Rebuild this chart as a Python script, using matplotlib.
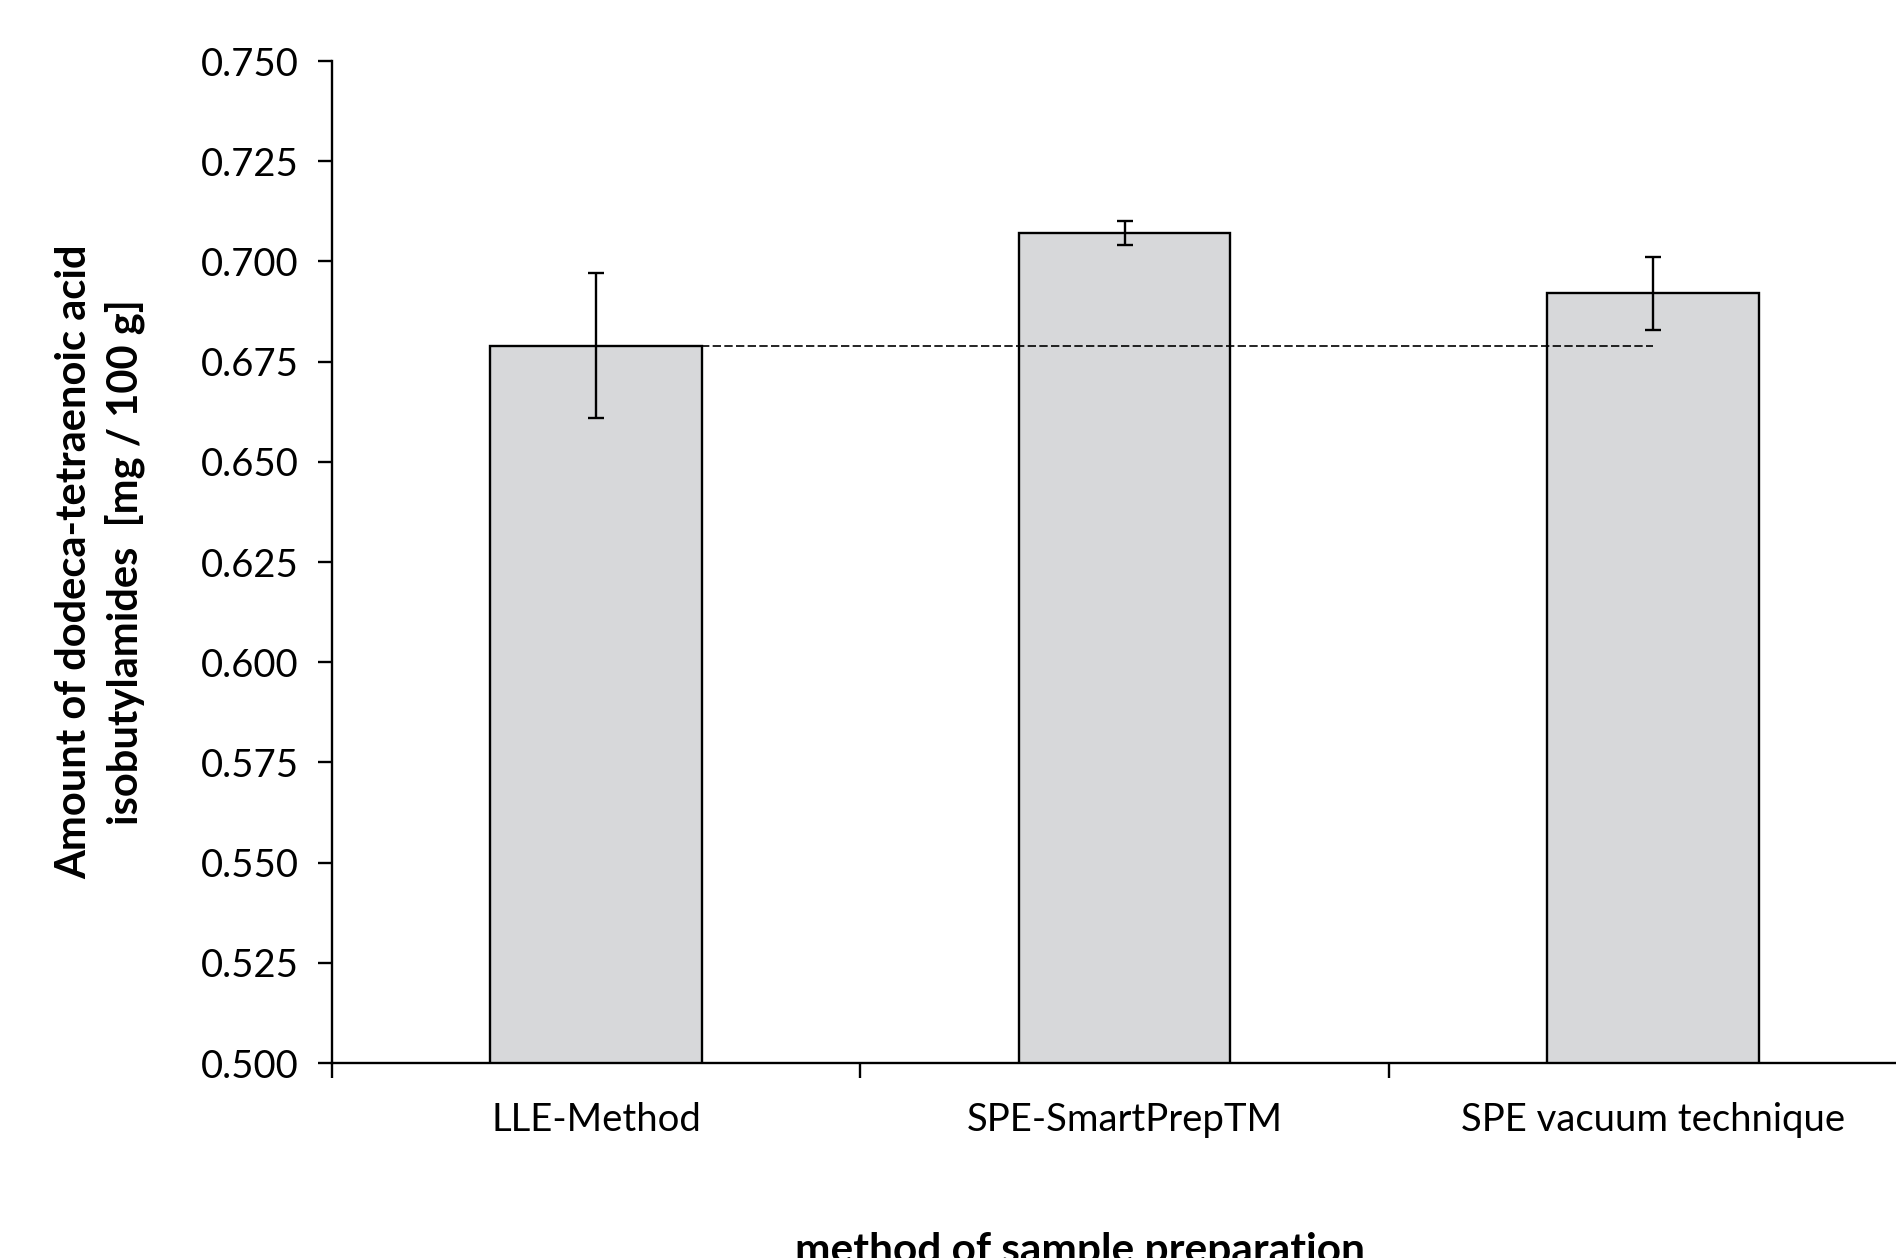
import numpy as np
import matplotlib
matplotlib.use("Agg")
import matplotlib.pyplot as plt

plt.rcParams["font.family"] = ["Lato", "DejaVu Sans"]

# measured amounts per preparation method (mean ± error)
methods = ["LLE-Method", "SPE-SmartPrepTM", "SPE vacuum technique"]
amounts = [0.679, 0.707, 0.692]
errors = [0.018, 0.003, 0.009]
y_ticks = [0.500, 0.525, 0.550, 0.575, 0.600, 0.625, 0.650, 0.675, 0.700, 0.725, 0.750]

fig = plt.figure(figsize=(18.96, 12.58), dpi=100)
ax = fig.add_axes([0.1751, 0.155, 0.836, 0.7965])

x = np.arange(len(methods))
ax.bar(x, amounts, width=0.4, color="#d7d8da", edgecolor="black", linewidth=1.7, zorder=2)
ax.errorbar(x, amounts, yerr=errors, fmt="none", ecolor="black", elinewidth=1.7,
            capsize=6, capthick=1.7, zorder=3)

# reference level of the LLE method across to the last method
ax.hlines(amounts[0], x[0], x[-1], colors="black", linestyles=(0, (5, 2)), linewidth=1.2, zorder=4)

ax.set_xlim(-0.5, len(methods) - 0.5)
ax.set_ylim(0.5, 0.75)
ax.set_yticks(y_ticks)
ax.set_yticklabels([f"{v:.3f}" for v in y_ticks])

# boundary ticks between categories, labels centred on the bars
ax.set_xticks(np.arange(len(methods) + 1) - 0.5)
ax.set_xticklabels([])
ax.set_xticks(x, minor=True)
ax.set_xticklabels(methods, minor=True)
ax.tick_params(axis="x", which="minor", length=0, pad=28, labelsize=27.5)
ax.tick_params(axis="x", which="major", length=11, width=1.7, direction="out")
ax.tick_params(axis="y", length=10, width=1.7, direction="out", labelsize=27.5, pad=14)

for side in ["top", "right"]:
    ax.spines[side].set_visible(False)
for side in ["left", "bottom"]:
    ax.spines[side].set_linewidth(1.7)

ax.set_ylabel("Amount of dodeca-tetraenoic acid\nisobutylamides  [mg / 100 g]",
              fontsize=30, fontweight="bold", labelpad=40, linespacing=1.35)
fig.text(0.5696, -0.004, "method of sample preparation", fontsize=30.5,
         fontweight="bold", ha="center", va="baseline")

fig.savefig("out.png", dpi=100)
